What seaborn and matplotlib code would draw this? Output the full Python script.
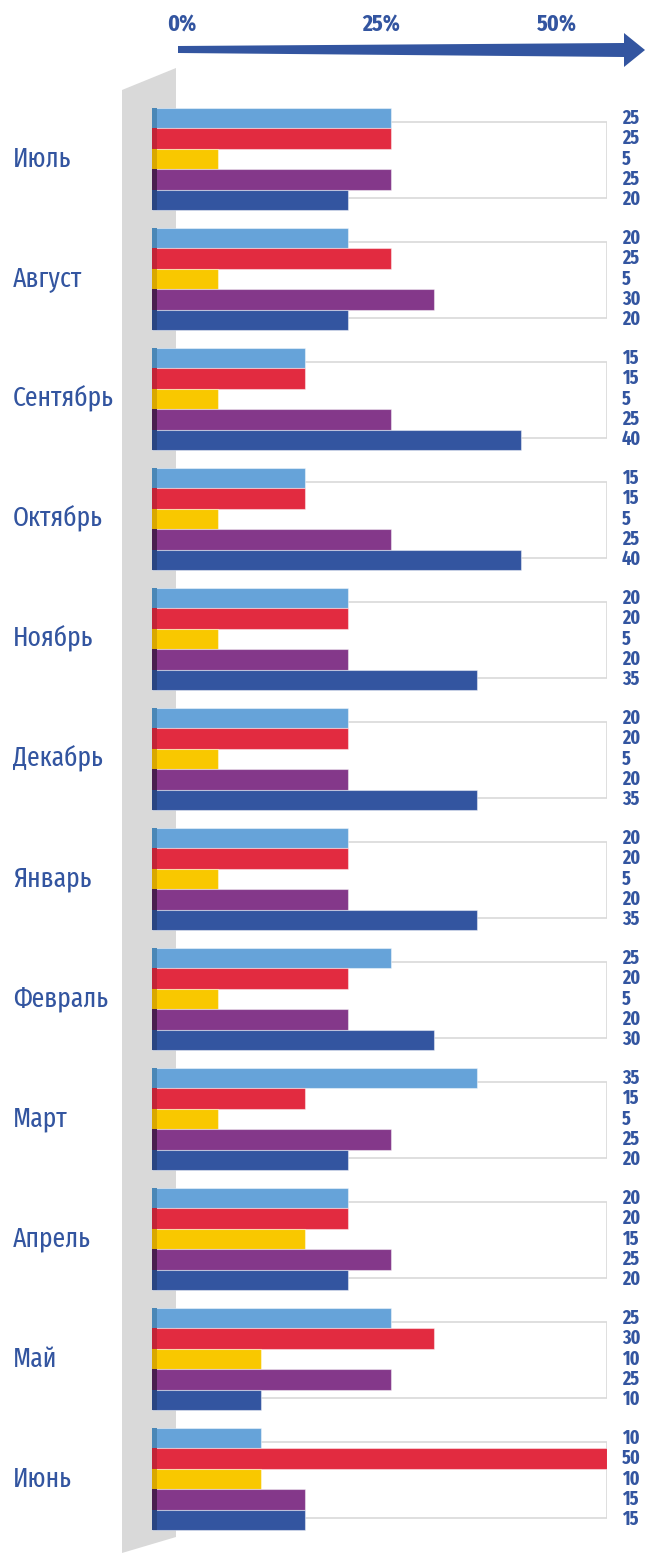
import matplotlib
matplotlib.use("Agg")
import matplotlib.pyplot as plt
import matplotlib.transforms as mtransforms
from matplotlib.patches import Polygon, Rectangle
from matplotlib import font_manager as fm
import seaborn as sns
import pandas as pd

# ---------------- data ----------------
months = ["Июль", "Август", "Сентябрь", "Октябрь", "Ноябрь", "Декабрь",
          "Январь", "Февраль", "Март", "Апрель", "Май", "Июнь"]
series = ["s1", "s2", "s3", "s4", "s5"]
s1 = [25, 20, 15, 15, 20, 20, 20, 25, 35, 20, 25, 10]
s2 = [25, 25, 15, 15, 20, 20, 20, 20, 15, 20, 30, 50]
s3 = [5, 5, 5, 5, 5, 5, 5, 5, 5, 15, 10, 10]
s4 = [25, 30, 25, 25, 20, 20, 20, 20, 25, 25, 25, 15]
s5 = [20, 20, 40, 40, 35, 35, 35, 30, 20, 20, 10, 15]
top_ticks = ["0%", "25%", "50%"]

colors = ["#66a3d9", "#e22b40", "#f9c800", "#84388a", "#3355a0"]
strip_colors = ["#4a87b6", "#c22438", "#d9a800", "#4a1f4f", "#2a4582"]
text_blue = "#3355a0"

rows = []
for sname, vals in zip(series, [s1, s2, s3, s4, s5]):
    for m, v in zip(months, vals):
        rows.append({"month": m, "series": sname, "value": v})
df = pd.DataFrame(rows)

# ---------------- font choice ----------------
avail = {f.name for f in fm.fontManager.ttflist}
font = "DejaVu Sans"
for cand in ["Fira Sans Extra Condensed", "Fira Sans Condensed",
             "Roboto Condensed", "Asap Condensed", "DejaVu Sans"]:
    if cand in avail:
        font = cand
        break

# ---------------- figure ----------------
W, H = 645, 1553
sns.set_style("white")
plt.rcParams['font.family'] = [font, 'DejaVu Sans']
fig = plt.figure(figsize=(W / 100, H / 100), dpi=100)
fig.patch.set_facecolor("white")

def fx(x):
    return x / W

def fy(y):
    return 1 - y / H

x0_px, x1_px = 152, 607
y0_px, y1_px = 99, 1539
ax = fig.add_axes([fx(x0_px), fy(y1_px), (x1_px - x0_px) / W, (y1_px - y0_px) / H])
ax.set_facecolor("none")

offset = 2.66
sns.barplot(data=df, y="month", x="value", hue="series", order=months,
            hue_order=series, palette=colors, orient="h", width=0.85,
            saturation=1, dodge=True, ax=ax, zorder=3,
            edgecolor=(1, 1, 1, 0.45), linewidth=0.8)

ax.set_xlim(-offset, 50)
ax.set_ylim(len(months) - 0.5, -0.5)

strip_w = 5 / ((x1_px - x0_px) / (50 + offset))
n = len(months)
bar_patches = [p for p in ax.patches if isinstance(p, Rectangle)]
for i, p in enumerate(bar_patches[: n * len(series)]):
    si = i // n
    w = p.get_width()
    p.set_x(-offset)
    p.set_width(w + offset)
    ax.add_patch(Rectangle((-offset, p.get_y()), strip_w, p.get_height(),
                           facecolor=strip_colors[si], edgecolor="none", zorder=4))

for i in range(n):
    ax.add_patch(Rectangle((0, i - 0.308), 50, 0.633, facecolor="none",
                           edgecolor="#d9d9d9", linewidth=1.2, zorder=1))

if ax.get_legend() is not None:
    ax.get_legend().remove()
for s in ax.spines.values():
    s.set_visible(False)
ax.set_xticks([])
ax.set_yticks([])
ax.set_xlabel("")
ax.set_ylabel("")

blend = mtransforms.blended_transform_factory(fig.transFigure, ax.transData)
hue_w = 0.85 / len(series)
for i, m in enumerate(months):
    ax.text(fx(13), i, m, transform=blend, ha="left", va="center",
            fontsize=20, color=text_blue, clip_on=False)
    for si, vals in enumerate([s1, s2, s3, s4, s5]):
        yc = i + (si - 2) * hue_w
        ax.text(fx(622), yc, str(vals[i]), transform=blend, ha="left",
                va="center", fontsize=14, fontweight="bold", color=text_blue,
                clip_on=False)

band = Polygon([(fx(122), fy(90)), (fx(176), fy(68)), (fx(176), fy(1537)),
                (fx(122), fy(1553))], closed=True, transform=fig.transFigure,
               facecolor="#d9d9d9", edgecolor="none", zorder=-1)
fig.patches.append(band)

arrow = Polygon([(fx(178), fy(46)), (fx(624), fy(43)), (fx(624), fy(33)),
                 (fx(645), fy(50)), (fx(624), fy(67)), (fx(624), fy(57)),
                 (fx(178), fy(53))], closed=True, transform=fig.transFigure,
                facecolor=text_blue, edgecolor="none", zorder=2)
fig.patches.append(arrow)

for lab, xp in zip(top_ticks, [182, 381, 557]):
    fig.text(fx(xp), fy(25), lab, ha="center", va="center", fontsize=17,
             fontweight="bold", color=text_blue)

fig.savefig("out.png", dpi=100)
